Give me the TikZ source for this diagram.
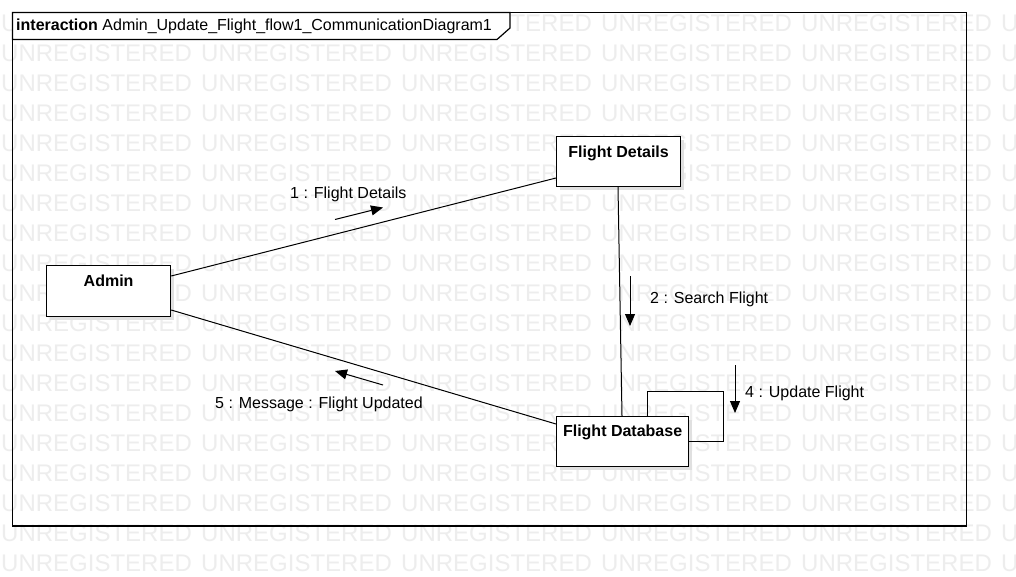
\documentclass[tikz,border=0pt]{standalone}
\usepackage{fontspec}
\setmainfont{Liberation Sans}
\usetikzlibrary{arrows.meta,calc,shadows}
\begin{document}
\begin{tikzpicture}[x=1pt,y=-1pt,
  wm/.style={anchor=base west,inner sep=0pt,text=black!7,font=\fontsize{24}{28}\selectfont},
  frameline/.style={draw=black,line width=1.2pt},
  obj/.style={draw=black,line width=1.2pt,fill=white,anchor=north west,inner sep=0pt,
    drop shadow={shadow xshift=3pt,shadow yshift=-3pt,fill=black!12,opacity=1}},
  objlabel/.style={anchor=north,inner sep=0pt,yshift=-10pt,font=\fontsize{16}{19}\selectfont\bfseries},
  link/.style={draw=black,line width=1pt},
  msg/.style={draw=black,line width=1pt,-{Triangle[length=12pt,width=10pt]}},
  msglabel/.style={anchor=base west,inner sep=0pt,font=\fontsize{16}{19}\selectfont}]
\useasboundingbox (0,0) rectangle (1016,576);
\fill[white] (0,0) rectangle (1016,576);
% watermark
\begin{scope}
\clip (0,0) rectangle (1016,576);
\foreach \k in {0,...,18}{
  \foreach \j in {0,...,5}{
    \node[wm] (wm-\j-\k) at ({200*\j+1},{31.5+30*\k}) {UNREGISTERED};
  }
}
\end{scope}
% frame
\draw[frameline] (12.5,12.5) rectangle (966.5,526);
\draw[frameline,fill=white] (12.5,12.5) -- (510,12.5) -- (510,28) -- (497,39.5) -- (12.5,39.5) -- cycle;
\node[anchor=base west,inner sep=0pt,font=\fontsize{16}{19}\selectfont] (title) at (16,30.5)
  {\textbf{interaction} Admin\_Update\_Flight\_flow1\_CommunicationDiagram1};
% objects
\node[obj,minimum width=124pt,minimum height=50pt] (fd) at (556,136) {};
\node[objlabel] (fdl) at (fd.north) {Flight Details};
\node[obj,minimum width=124pt,minimum height=51pt] (ad) at (46,265) {};
\node[objlabel] (adl) at (ad.north) {Admin};
\node[obj,minimum width=132pt,minimum height=50pt] (db) at (556,416) {};
\node[objlabel,yshift=1pt] (dbl) at (db.north) {Flight Database};
% links
\draw[link] ($(ad.north east)+(0,11)$) -- ($(fd.north west)+(0,42)$);
\draw[link] ($(ad.north east)+(0,45)$) -- ($(db.north west)+(0,8)$);
\draw[link] ($(fd.south west)+(62,0)$) -- ($(db.north west)+(66,0)$);
\draw[link] ($(db.north west)+(91,0)$) -- ++(0,-25) -- ++(76,0) -- ++(0,50) -- ($(db.north east)+(0,25)$);
% messages
\coordinate (m1a) at (335,219.5);
\coordinate (m1b) at (383,207.5);
\coordinate (m2a) at (630,276);
\coordinate (m2b) at (630,326);
\coordinate (m4a) at (735,365);
\coordinate (m4b) at (735,413);
\coordinate (m5a) at (383,385);
\coordinate (m5b) at (335,371);
\draw[msg] (m1a) -- (m1b);
\draw[msg] (m2a) -- (m2b);
\draw[msg] (m4a) -- (m4b);
\draw[msg] (m5a) -- (m5b);
\node[msglabel] (l1) at (290,198) {1 : Flight Details};
\node[msglabel] (l2) at (650,303) {2 : Search Flight};
\node[msglabel] (l4) at (745,397) {4 : Update Flight};
\node[msglabel] (l5) at (215,408) {5 : Message : Flight Updated};
\end{tikzpicture}
\end{document}
